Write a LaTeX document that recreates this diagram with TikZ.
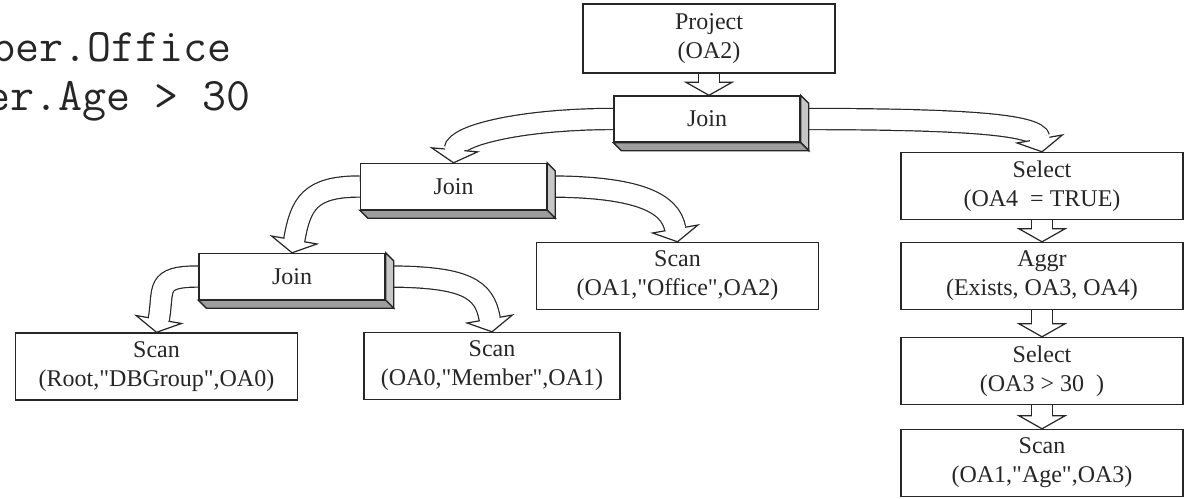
\documentclass[tikz,border=0pt]{standalone}
\usepackage{fontspec}
\setmainfont{Liberation Serif}
\usetikzlibrary{calc, positioning, backgrounds, decorations.markings}

\tikzset{
    opbox/.style={draw=black!85, line width=0.7pt, fill=white, inner sep=0pt, align=center,
        text=black!85, font=\fontsize{12}{14.5}\selectfont,
        minimum width=141pt, minimum height=33.5pt},
    joinbox/.style={opbox, minimum width=93pt, minimum height=23pt},
    querytext/.style={anchor=base east, inner sep=0pt, text=black!85,
        font=\ttfamily\fontsize{23.3}{28}\selectfont},
    flow/.style={draw=black!85, line width=0.6pt, double=white, double distance=10pt,
        shorten >=6.5pt,
        postaction={decorate, decoration={markings, mark=at position 0.9999 with {\blockhead}}}
    },
}
% open head of a block arrow, tip at the end of the path
\newcommand{\blockhead}{%
    \filldraw[fill=white, shorten >=0pt, shorten <=0pt] (-6.5pt,11.5pt) -- (0pt,0pt) -- (-6.5pt,-11.5pt) -- cycle;
    \fill[white] (-7.5pt,-4.9pt) rectangle (-5.5pt,4.9pt);
}
% side and bottom faces of a join slab
\newcommand{\slab}[1]{%
    \filldraw[fill=black!22, draw=black!85, line width=0.7pt] (#1.north east) -- ++(8,-8) -- ($(#1.south east)+(8,-8)$) -- (#1.south east) -- cycle;
    \filldraw[fill=black!38, draw=black!85, line width=0.7pt] (#1.south west) -- (#1.south east) -- ++(8,-8) -- ($(#1.south west)+(8,-8)$) -- cycle;
}
\newcommand{\qt}{\textquotedbl}

\begin{document}
\begin{tikzpicture}[x=0.5pt, y=0.5pt]
    \useasboundingbox (0,0) rectangle (1186,-498);
    % query text, cut at the left
    \node[querytext] (q1) at (232,-61) {ber.Office};
    \node[querytext] (q2) at (251,-110) {er.Age > 30};
    % operators
    \node[opbox, minimum width=126pt, minimum height=34.5pt] (pr) at (709,-38.5) {Project\\(OA2)};
    \node[joinbox] (j1) at (707,-119) {Join};
    \node[joinbox] (j2) at (453.5,-186.5) {Join};
    \node[joinbox] (j3) at (292,-276.5) {Join};
    \node[opbox] (sr) at (156.5,-366.5) {Scan\\(Root,\qt DBGroup\qt,OA0)};
    \node[opbox, minimum width=128pt] (sm) at (492,-366) {Scan\\(OA0,\qt Member\qt,OA1)};
    \node[opbox] (so) at (677.5,-276) {Scan\\(OA1,\qt Office\qt,OA2)};
    \node[opbox] (s1) at (1042,-186) {Select\\(OA4\ \ = TRUE)};
    \node[opbox] (ag) at (1042,-276) {Aggr\\(Exists, OA3, OA4)};
    \node[opbox] (s2) at (1042,-371) {Select\\(OA3 > 30\ \ )};
    \node[opbox] (sa) at (1042,-463) {Scan\\(OA1,\qt Age\qt,OA3)};
    % data flow
    \begin{scope}[on background layer]
    \draw[flow] (pr.south) -- (pr.south |- j1.north);
    \draw[flow] (j1.west) to[out=180, in=85, out distance=45pt, in distance=14pt] (j2.north);
    \draw[flow] (j1.east) to[out=0, in=100, out distance=80pt, in distance=14pt] (s1.north);
    \draw[flow] (j2.west) to[out=180, in=80, out distance=25pt, in distance=25pt] (j3.north);
    \draw[flow] (j2.east) to[out=0, in=100, out distance=45pt, in distance=20pt] (so.north);
    \draw[flow] (j3.west) to[out=180, in=80, out distance=22pt, in distance=22pt] (sr.north);
    \draw[flow] (j3.east) to[out=0, in=100, out distance=40pt, in distance=22pt] (sm.north);
    \draw[flow] (s1) -- (ag);
    \draw[flow] (ag) -- (s2);
    \draw[flow] (s2) -- (sa);
    \end{scope}
    \foreach \j in {j1,j2,j3}{\slab{\j}}
\end{tikzpicture}
\end{document}
